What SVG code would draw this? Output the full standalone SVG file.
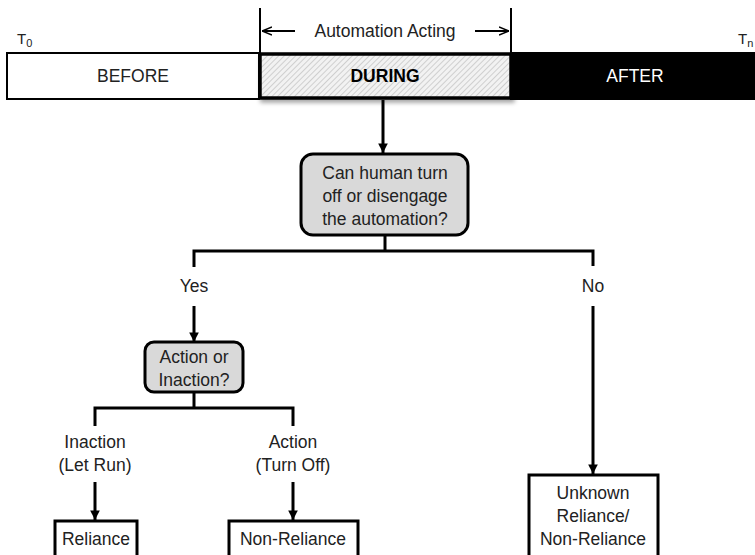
<svg xmlns="http://www.w3.org/2000/svg" width="755" height="555" viewBox="0 0 755 555">
  <defs>
    <pattern id="hatch" width="4" height="4" patternUnits="userSpaceOnUse" patternTransform="rotate(45)">
      <rect width="4" height="4" fill="#f2f2f2"/>
      <line x1="0" y1="0" x2="0" y2="4" stroke="#b8b8b8" stroke-width="1.2"/>
    </pattern>
    <marker id="arr" viewBox="0 0 10 10" refX="10" refY="5" markerWidth="3.2" markerHeight="3.2" orient="auto" markerUnits="strokeWidth">
      <path d="M0,0 L10,5 L0,10 z" fill="#000"/>
    </marker>
    <marker id="arrs" viewBox="0 0 10 10" refX="10" refY="5" markerWidth="5" markerHeight="5" orient="auto" markerUnits="strokeWidth">
      <path d="M0,1 L10,5 L0,9" fill="none" stroke="#000" stroke-width="1.6"/>
    </marker>
    <filter id="shadow" x="-5%" y="-20%" width="110%" height="150%">
      <feDropShadow dx="2" dy="3" stdDeviation="2" flood-color="#000" flood-opacity="0.35"/>
    </filter>
  </defs>
  <style>
    text { font-family: "Liberation Sans", Arial, sans-serif; font-size: 17.5px; fill: #222; text-anchor: middle; }
    .bold { font-weight: bold; fill: #000; }
    .white { fill: #fff; }
    .sub { font-size: 11px; text-anchor: start; }
    .lead { text-anchor: start; }
    .box { fill: #fff; stroke: #000; stroke-width: 3; }
    .decision { fill: #d9d9d9; stroke: #000; stroke-width: 3; }
    .conn { fill: none; stroke: #000; stroke-width: 3; }
    .thin { fill: none; stroke: #000; stroke-width: 2; }
  </style>
  <rect width="755" height="555" fill="#fff"/>

  <!-- timeline -->
  <g id="timeline">
    <rect id="before" x="7" y="53" width="252" height="46" fill="#fff" stroke="#000" stroke-width="2"/>
    <text x="133" y="82">BEFORE</text>
    <rect id="after" x="511" y="53" width="250" height="46" fill="#000" stroke="#000" stroke-width="2"/>
    <text class="white" x="635" y="82">AFTER</text>
    <rect id="during" x="260" y="54" width="251" height="44" fill="url(#hatch)" stroke="#000" stroke-width="3.5" filter="url(#shadow)"/>
    <text class="bold" x="385" y="82">DURING</text>
    <text class="lead" x="17" y="44" style="font-size:15px">T<tspan class="sub" dy="3">0</tspan></text>
    <text class="lead" x="738" y="44" style="font-size:15px">T<tspan class="sub" dy="3">n</tspan></text>
  </g>

  <!-- automation acting span -->
  <g id="span">
    <line class="thin" x1="260" y1="8" x2="260" y2="53"/>
    <line class="thin" x1="511" y1="8" x2="511" y2="53"/>
    <line class="thin" x1="295" y1="31" x2="262" y2="31" marker-end="url(#arrs)"/>
    <line class="thin" x1="475" y1="31" x2="509" y2="31" marker-end="url(#arrs)"/>
    <text x="385" y="37">Automation Acting</text>
  </g>

  <!-- connectors -->
  <g id="connectors">
    <line class="conn" x1="383" y1="100" x2="383" y2="153" marker-end="url(#arr)"/>
    <polyline class="conn" points="194,267 194,251 593,251 593,266"/>
    <line class="conn" x1="385" y1="236" x2="385" y2="251"/>
    <line class="conn" x1="194" y1="306" x2="194" y2="342" marker-end="url(#arr)"/>
    <line class="conn" x1="593" y1="306" x2="593" y2="474" marker-end="url(#arr)"/>
    <line class="conn" x1="194" y1="392" x2="194" y2="408"/>
    <polyline class="conn" points="95,426 95,408 293,408 293,426"/>
    <line class="conn" x1="95" y1="482" x2="95" y2="520" marker-end="url(#arr)"/>
    <line class="conn" x1="293" y1="482" x2="293" y2="520" marker-end="url(#arr)"/>
  </g>

  <!-- branch labels -->
  <g id="labels">
    <text x="194" y="292">Yes</text>
    <text x="593" y="292">No</text>
    <text x="95" y="448">Inaction</text>
    <text x="95" y="471">(Let Run)</text>
    <text x="293" y="448">Action</text>
    <text x="293" y="471">(Turn Off)</text>
  </g>

  <g id="q-disengage">
    <rect class="decision" x="301" y="154" width="167" height="81" rx="12"/>
    <text x="385" y="179">Can human turn</text>
    <text x="385" y="202">off or disengage</text>
    <text x="385" y="225">the automation?</text>
  </g>

  <g id="q-action">
    <rect class="decision" x="145" y="342" width="98" height="50" rx="9"/>
    <text x="194" y="363">Action or</text>
    <text x="194" y="386">Inaction?</text>
  </g>

  <g id="reliance">
    <rect class="box" x="55" y="521" width="82" height="50"/>
    <text x="96" y="545">Reliance</text>
  </g>

  <g id="non-reliance">
    <rect class="box" x="229" y="521" width="129" height="50"/>
    <text x="293" y="545">Non-Reliance</text>
  </g>

  <g id="unknown">
    <rect class="box" x="529" y="475" width="129" height="100"/>
    <text x="593" y="499">Unknown</text>
    <text x="593" y="522">Reliance/</text>
    <text x="593" y="545">Non-Reliance</text>
  </g>
</svg>
